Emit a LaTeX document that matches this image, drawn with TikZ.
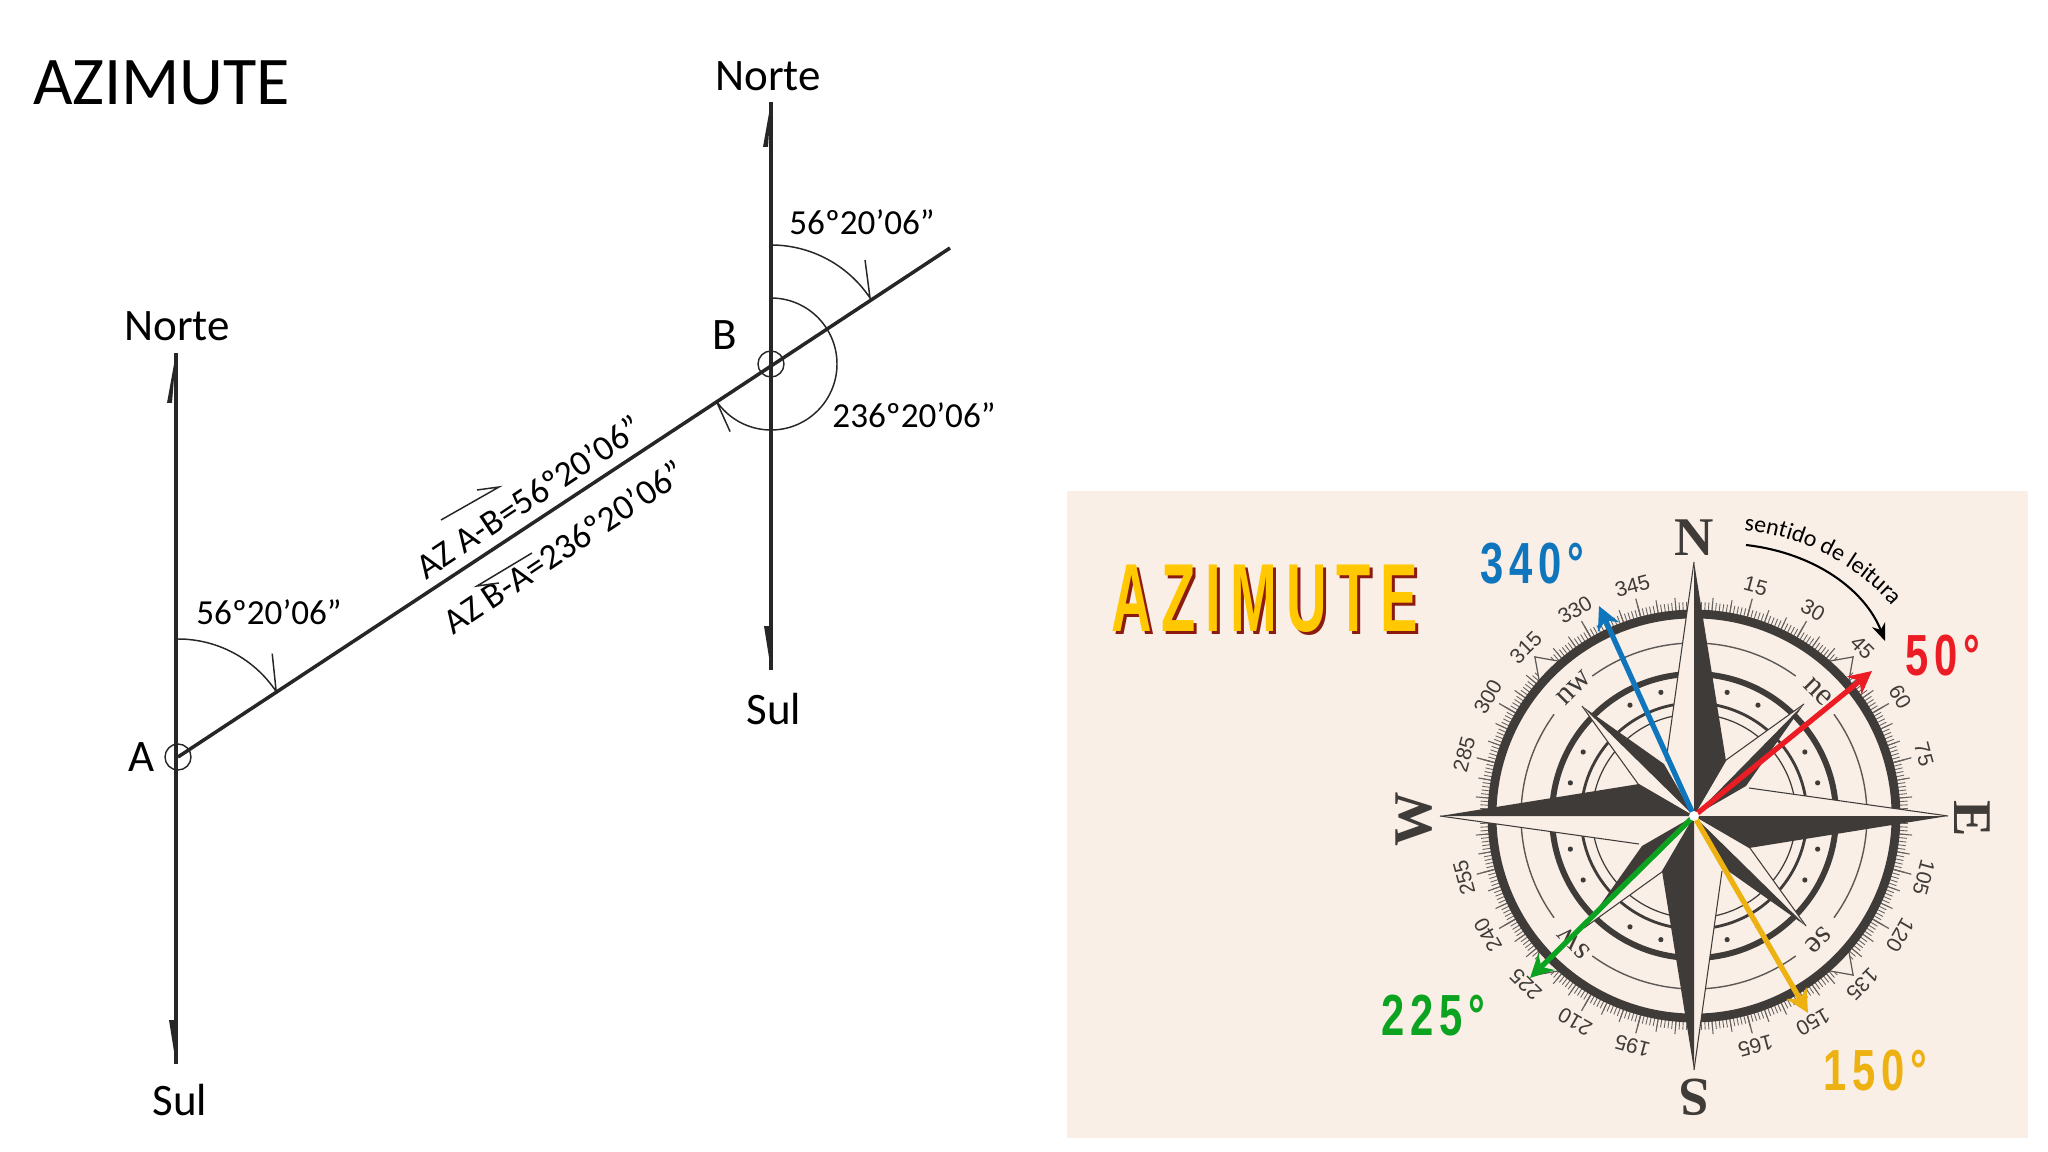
\documentclass[tikz,border=0pt]{standalone}
\usepackage{fontspec}
\setmainfont{Carlito}
\newfontfamily\dialfont{Liberation Sans}
\newfontfamily\cardfont{Liberation Serif}
\newfontfamily\posterfont[FakeStretch=0.58,LetterSpace=10]{Liberation Sans}
\newfontfamily\valuefont[FakeStretch=0.72,LetterSpace=10]{Liberation Sans}
\usetikzlibrary{arrows.meta, calc, decorations.text}
\definecolor{panelcream}{HTML}{FAEFE7}
\definecolor{rosedark}{HTML}{3F3B38}
\definecolor{azblue}{HTML}{0F75BC}
\definecolor{azred}{HTML}{EC1C24}
\definecolor{azgreen}{HTML}{0BA31F}
\definecolor{azyellow}{HTML}{EDB111}
\definecolor{titleyellow}{HTML}{FFC800}
\definecolor{titleshadow}{HTML}{8B1A10}

\begin{document}
\begin{tikzpicture}[
      x=0.01cm, y=-0.01cm,
      every node/.style={inner sep=0pt, outer sep=0pt},
      axis/.style={line width=0.95pt, black!85},
      baseline/.style={line width=1pt, black!85},
      anglearc/.style={line width=0.42pt, black!85},
      station/.style={line width=0.4pt, black!85},
      bignorth/.style={font=\fontsize{12.8}{14}\selectfont},
      anglelabel/.style={font=\fontsize{10}{12}\selectfont},
      azlabel/.style={font=\fontsize{10.2}{12}\selectfont, rotate=33.67},
      dialnum/.style={font=\dialfont\fontsize{6}{6}\selectfont, text=rosedark},
      cardinal/.style={font=\cardfont\bfseries\fontsize{15.5}{16}\selectfont, text=rosedark},
      subcardinal/.style={font=\cardfont\fontsize{9}{9}\selectfont, text=rosedark},
      azvalue/.style={font=\valuefont\bfseries\fontsize{16.5}{18}\selectfont},
      azarrow/.style={line width=1.5pt, -{Stealth[length=6.5pt, width=6.5pt, inset=2pt]}}
    ]
    \useasboundingbox (0,0) rectangle (2048,1152);

    % Left drawing: stations and north lines
    \coordinate (A) at (178,757);
    \coordinate (B) at (771,364);
    \coordinate (northA) at (176,353);
    \coordinate (southA) at (176,1064);
    \coordinate (northB) at (771,102);
    \coordinate (southB) at (771,670);
    \coordinate (lineEnd) at (950,248);

    \node[anchor=base west, font=\fontsize{19.4}{22}\selectfont] (mainTitle) at (33,105) {AZIMUTE};
    \draw[axis] (northA) -- (southA);
    \draw[axis] (northB) -- (southB);
    \draw[baseline] (A) -- (lineEnd);
    \fill[black!85] (northA) -- ++(-9,50) -- ++(5,0) -- cycle;
    \fill[black!85] (southA) -- ++(-7,-44) -- ++(5,0) -- cycle;
    \fill[black!85] (northB) -- ++(-8,45) -- ++(5,0) -- cycle;
    \fill[black!85] (southB) -- ++(-7,-44) -- ++(5,0) -- cycle;
    \draw[station] (A) circle[radius=13];
    \draw[station] (B) circle[radius=13];

    \node[bignorth] (norteA) at (177,326) {Norte};
    \node[bignorth] (sulA) at (180,1100) {Sul};
    \node[bignorth] (norteB) at (768,76) {Norte};
    \node[bignorth] (sulB) at (774,709) {Sul};
    \node[bignorth] (labelA) at (142,757) {A};
    \node[bignorth] (labelB) at (725,335) {B};

    % Angle arcs
    \draw[anglearc] (A) ++(-90:118) arc[start angle=-90, end angle=-33.67, radius=118] coordinate (tipA) -- ++(-4,-38);
    \draw[anglearc] (B) ++(-90:119) arc[start angle=-90, end angle=-33.67, radius=119] coordinate (tipB) -- ++(-5,-38);
    \draw[anglearc] (B) ++(-90:66) arc[start angle=-90, end angle=146.33, radius=66] coordinate (tipBack) -- ++(14,31);
    \node[anglelabel] (angleA) at (269,612) {56º20’06”};
    \node[anglelabel] (angleB) at (862,222) {56º20’06”};
    \node[anglelabel] (angleBack) at (914,415) {236º20’06”};

    % Along the line A-B
    \node[azlabel] (azAB) at (529,497) {AZ A-B=56º20’06”};
    \node[azlabel] (azBA) at (564,547) {AZ B-A=236º20’06”};
    \coordinate (goStart) at (441,520);
    \coordinate (goEnd) at (499,487);
    \coordinate (backStart) at (532,553);
    \coordinate (backEnd) at (477,586);
    \draw[anglearc] (goStart) -- (goEnd) -- ++(-22,3);
    \draw[anglearc] (backStart) -- (backEnd) -- ++(22,-3);

    % Right panel
    \fill[panelcream] (1067,491) rectangle (2028,1138);
    \node[anchor=base west, text=titleshadow, font=\posterfont\bfseries\fontsize{27.5}{30}\selectfont] (titleBack) at (1114,634) {AZIMUTE};
    \node[anchor=base west, text=titleyellow, font=\posterfont\bfseries\fontsize{27.5}{30}\selectfont] (titleFront) at (1111,631) {AZIMUTE};

    \coordinate (C) at (1694,816);

    % Compass dial
    \begin{scope}[shift={(C)}]
      \foreach \a in {0,...,359}
        \draw[rosedark!80, line width=0.25pt] (\a:204) -- (\a:214);
      \foreach \a in {0,5,...,355}
        \draw[rosedark!80, line width=0.3pt] (\a:204) -- (\a:219);
      \foreach \a in {0,15,...,345}
        \draw[rosedark!80, line width=0.35pt] (\a:204) -- (\a:225);
      \foreach \a in {45,135,225,315}
        \filldraw[fill=panelcream, draw=rosedark!85, line width=0.35pt] (\a-4:205) -- (\a:225) -- (\a+4:205) -- cycle;
      \draw[rosedark, line width=2.5pt] (0,0) circle[radius=202];
      \draw[rosedark, line width=1.7pt] (0,0) circle[radius=142];
      \draw[rosedark, line width=0.8pt] (0,0) circle[radius=113];
      \draw[rosedark, line width=0.35pt] (0,0) circle[radius=102];
      \foreach \a in {0,90,180,270}
        \draw[rosedark!85, line width=0.4pt] (\a-126:173) arc[start angle=\a-126, end angle=\a-54, radius=173];
      \foreach \a in {0,90,180,270} {
        \fill[rosedark] (\a+15:128) circle[radius=2.6];
        \fill[rosedark] (\a+30:128) circle[radius=2.6];
        \fill[rosedark] (\a+60:128) circle[radius=2.6];
        \fill[rosedark] (\a+75:128) circle[radius=2.6];
      }
      \foreach \a in {15,30,45,60,75,105,120,135,150,165,195,210,225,240,255,285,300,315,330,345}
        \node[dialnum, rotate=-\a] (num\a) at (\a-90:238) {\a};
    \end{scope}

    % Rose: diagonal points, then the long ones
    \foreach \r in {0,90,180,270} {
      \begin{scope}[shift={(C)}, rotate=\r]
        \fill[panelcream] (0,0) -- (-112,-110) -- (-53,-28) -- cycle;
        \draw[rosedark, line width=0.3pt] (-112,-110) -- (-53,-28);
        \fill[rosedark] (0,0) -- (-112,-110) -- (-30,-52) -- cycle;
      \end{scope}
    }
    \foreach \r in {0,90,180,270} {
      \begin{scope}[shift={(C)}, rotate=\r]
        \fill[panelcream] (0,0) -- (0,-254) -- (-28,-55) -- cycle;
        \draw[rosedark, line width=0.3pt] (0,-254) -- (-28,-55);
        \fill[rosedark] (0,0) -- (0,-254) -- (32,-55) -- cycle;
      \end{scope}
    }

    \node[cardinal] (cardN) at (1694,538) {N};
    \node[cardinal, rotate=-90] (cardE) at (1972,819) {E};
    \node[cardinal, rotate=180] (cardS) at (1694,1097) {S};
    \node[cardinal, rotate=90] (cardW) at (1414,819) {W};
    \node[subcardinal, rotate=45] (cardNW) at (1574,688) {nw};
    \node[subcardinal, rotate=-45] (cardNE) at (1818,692) {ne};
    \node[subcardinal, rotate=-135] (cardSE) at (1818,940) {se};
    \node[subcardinal, rotate=135] (cardSW) at (1574,943) {sw};

    % Azimuth arrows
    \coordinate (tipBlue) at (1599,606);
    \coordinate (tipRed) at (1872,671);
    \coordinate (tipGreen) at (1530,978);
    \coordinate (tipYellow) at (1808,1013);
    \draw[azarrow, azblue] (C) -- (tipBlue);
    \draw[azarrow, azred] (C) -- (tipRed);
    \draw[azarrow, azgreen] (C) -- (tipGreen);
    \draw[azarrow, azyellow] (C) -- (tipYellow);
    \fill[white] (C) circle[radius=5];

    \node[azvalue, text=azblue] (valBlue) at (1532,564) {340°};
    \node[azvalue, text=azred] (valRed) at (1943,656) {50°};
    \node[azvalue, text=azgreen] (valGreen) at (1433,1016) {225°};
    \node[azvalue, text=azyellow] (valYellow) at (1875,1071) {150°};

    % Reading direction
    \coordinate (readStart) at (1746,545);
    \coordinate (readEnd) at (1885,641);
    \coordinate (textStart) at (1742,530);
    \coordinate (textEnd) at (1894,608);
    \draw[black, line width=0.6pt, -{Stealth[length=5pt, width=4pt]}] (readStart) .. controls (1815,553) and (1865,590) .. (readEnd);
    \path[decorate, decoration={text along path, text align=center, text={|\fontsize{6.8}{8}\selectfont|sentido de leitura}}] (textStart) .. controls (1805,535) and (1862,570) .. (textEnd);
  \end{tikzpicture}
\end{document}
